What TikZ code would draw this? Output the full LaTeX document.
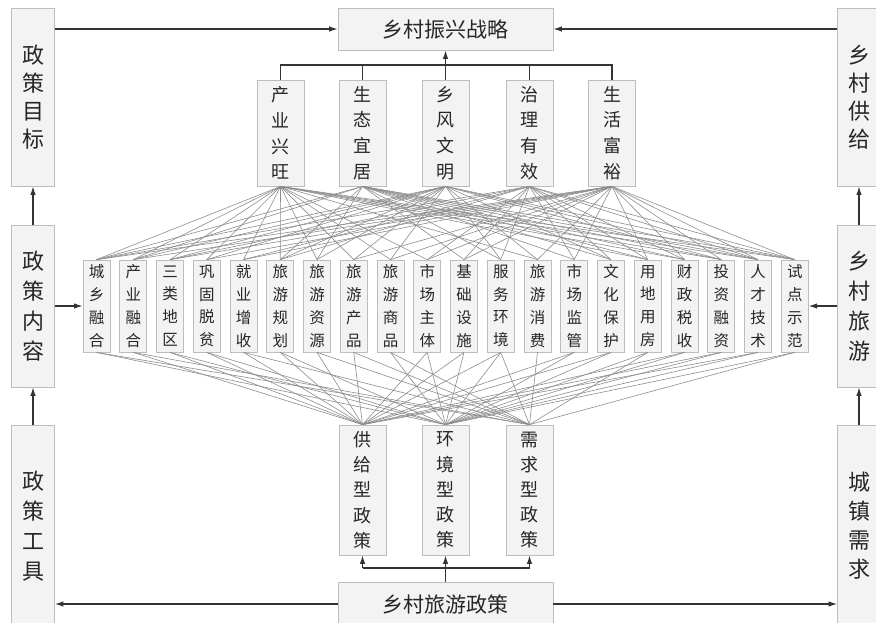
\documentclass[tikz,border=0pt]{standalone}
\usepackage{fontspec}
\newfontfamily\cjk{Noto Sans CJK SC}
\usetikzlibrary{arrows.meta,positioning}

\definecolor{boxfill}{HTML}{F3F3F3}
\definecolor{boxline}{HTML}{BDBDBD}
\definecolor{linkgray}{HTML}{8C8C8C}
\definecolor{arrowgray}{HTML}{333333}

\tikzset{
  box/.style={draw=boxline, fill=boxfill, line width=0.8pt, inner sep=0pt, align=center, text=black!85},
  sidebox/.style={box, minimum width=43pt, font=\cjk\fontsize{22}{28}\selectfont},
  goalbox/.style={box, minimum width=47pt, minimum height=106pt, font=\cjk\fontsize{18}{25.7}\selectfont},
  itembox/.style={box, minimum width=27pt, minimum height=92pt, font=\cjk\fontsize{15.5}{22.8}\selectfont},
  toolbox/.style={box, minimum width=47pt, minimum height=130pt, font=\cjk\fontsize{18}{25.2}\selectfont},
  widebox/.style={box, minimum width=215pt, minimum height=42pt, font=\cjk\fontsize{21}{25}\selectfont},
  link/.style={draw=linkgray, line width=0.6pt},
  arr/.style={draw=arrowgray, line width=1.1pt, -{Latex[length=8.5pt,width=5.5pt]}},
  bar/.style={draw=arrowgray, line width=1.1pt},
}

\begin{document}
\begin{tikzpicture}[x=1pt,y=-1pt]
    \clip (0,0) rectangle (876,622);

    % Side columns
    \node[sidebox, minimum height=178pt] (mubiao) at (33,97) {政\\策\\目\\标};
    \node[sidebox, minimum height=162pt, font=\cjk\fontsize{22}{30}\selectfont] (neirong) at (33,306) {政\\策\\内\\容};
    \node[sidebox, minimum height=202pt, font=\cjk\fontsize{22}{30}\selectfont] (gongju) at (33,526) {政\\策\\工\\具};
    \node[sidebox, minimum height=178pt] (gongji) at (859,97) {乡\\村\\供\\给};
    \node[sidebox, minimum height=162pt, font=\cjk\fontsize{22}{30}\selectfont] (lvyou) at (859,306) {乡\\村\\旅\\游};
    \node[sidebox, minimum height=202pt, font=\cjk\fontsize{22}{29}\selectfont] (xuqiu) at (859,526) {城\\镇\\需\\求};

    % Top and bottom boxes
    \node[widebox] (zhanlue) at (445.5,29) {乡村振兴战略};
    \node[widebox, minimum height=44pt] (zhengce) at (445.5,604) {乡村旅游政策};

    % Goals
    \foreach \i/\x/\t in {1/280.5/{产\\业\\兴\\旺}, 2/362.5/{生\\态\\宜\\居},
        3/445.5/{乡\\风\\文\\明}, 4/529.5/{治\\理\\有\\效}, 5/612/{生\\活\\富\\裕}} {
        \node[goalbox] (g\i) at (\x,133) {\t};
    }

    % Tools
    \foreach \i/\x/\t in {1/362.5/{供\\给\\型\\政\\策}, 2/445.5/{环\\境\\型\\政\\策},
        3/529.5/{需\\求\\型\\政\\策}} {
        \node[toolbox] (t\i) at (\x,490) {\t};
    }

    % Policy contents
    \foreach \i/\t in {0/{城\\乡\\融\\合}, 1/{产\\业\\融\\合}, 2/{三\\类\\地\\区}, 3/{巩\\固\\脱\\贫},
        4/{就\\业\\增\\收}, 5/{旅\\游\\规\\划}, 6/{旅\\游\\资\\源}, 7/{旅\\游\\产\\品},
        8/{旅\\游\\商\\品}, 9/{市\\场\\主\\体}, 10/{基\\础\\设\\施}, 11/{服\\务\\环\\境},
        12/{旅\\游\\消\\费}, 13/{市\\场\\监\\管}, 14/{文\\化\\保\\护}, 15/{用\\地\\用\\房},
        16/{财\\政\\税\\收}, 17/{投\\资\\融\\资}, 18/{人\\才\\技\\术}, 19/{试\\点\\示\\范}} {
        \node[itembox] (m\i) at ({96.5+\i*36.75},306) {\t};
    }

    % Links: contents to goals
    \foreach \i/\gl in {0/{1,2,3,4,5}, 1/{1,2,3,5}, 2/{1,3,4,5}, 3/{1,3,5}, 4/{1,4,5},
        5/{1,2,3,4}, 6/{1,2,3}, 7/{1,3,5}, 8/{1,3,5}, 9/{1,4,5}, 10/{2,4,5},
        11/{2,3,4}, 12/{1,3,5}, 13/{2,4,5}, 14/{2,3,4}, 15/{1,2,4,5},
        16/{1,2,4,5}, 17/{1,2,3,5}, 18/{1,2,3,4,5}, 19/{1,2,3,4,5}} {
        \foreach \g in \gl {
            \draw[link] (g\g.south) -- (m\i.north);
        }
    }

    % Links: contents to tools
    \foreach \i/\tl in {0/{2,3}, 1/{1,3}, 2/{1,2}, 3/{1,2}, 4/{1,3}, 5/{1,2}, 6/{1,3},
        7/{1,3}, 8/{2,3}, 9/{1,2}, 10/{1,2}, 11/{1,2,3}, 12/{3}, 13/{1,2},
        14/{1,2}, 15/{2,3}, 16/{1,2}, 17/{1,2}, 18/{1,2}, 19/{2,3}} {
        \foreach \t in \tl {
            \draw[link] (m\i.south) -- (t\t.north);
        }
    }

    % Goals bracket
    \coordinate (topbar) at (0,65);
    \draw[bar] (g1.north) -- (g1.north |- topbar) -- (g5.north |- topbar) -- (g5.north);
    \foreach \g in {2,4} {
        \draw[bar] (g\g.north |- topbar) -- (g\g.north);
    }
    \draw[arr] (g3.north) -- (zhanlue.south);

    % Tools bracket
    \coordinate (botbar) at (0,568);
    \draw[bar] (zhengce.north) -- (zhengce.north |- botbar);
    \draw[bar] (t1.south |- botbar) -- (t3.south |- botbar);
    \foreach \t in {1,2,3} {
        \draw[arr] (t\t.south |- botbar) -- (t\t.south);
    }

    % Main arrows
    \draw[arr] (zhanlue.west -| mubiao.east) -- (zhanlue.west);
    \draw[arr] (zhanlue.east -| gongji.west) -- (zhanlue.east);
    \draw[arr] (m0.west -| neirong.east) -- (m0.west);
    \draw[arr] (m19.east -| lvyou.west) -- (m19.east);
    \draw[arr] (zhengce.west) -- (zhengce.west -| gongju.east);
    \draw[arr] (zhengce.east) -- (zhengce.east -| xuqiu.west);

    % Side arrows
    \draw[arr] (gongju.north) -- (neirong.south);
    \draw[arr] (neirong.north) -- (mubiao.south);
    \draw[arr] (xuqiu.north) -- (lvyou.south);
    \draw[arr] (lvyou.north) -- (gongji.south);

\end{tikzpicture}
\end{document}
